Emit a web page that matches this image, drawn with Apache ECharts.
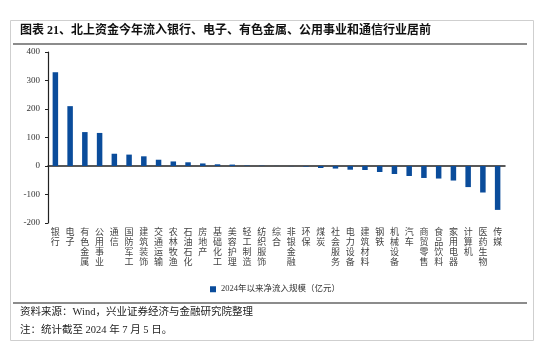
<!DOCTYPE html>
<html>
<head>
<meta charset="utf-8">
<script src="https://cdn.jsdelivr.net/npm/echarts@6/dist/echarts.min.js"></script>
<style>
    html, body { margin: 0; padding: 0; background: #fff; }
    #main { width: 550px; height: 354px; }
</style>
</head>
<body>
<div id="main"></div>
<script>
// industries, sorted by net inflow
var industries = ['银行', '电子', '有色金属', '公用事业', '通信', '国防军工', '建筑装饰', '交通运输',
    '农林牧渔', '石油石化', '房地产', '基础化工', '美容护理', '轻工制造', '纺织服饰', '综合',
    '非银金融', '环保', '煤炭', '社会服务', '电力设备', '建筑材料', '钢铁', '机械设备', '汽车',
    '商贸零售', '食品饮料', '家用电器', '计算机', '医药生物', '传媒'];
// net inflow since 2024 (100m yuan)
var netInflow = [329, 210, 119, 116, 43, 40, 34, 22,
    16, 13, 9, 6, 5, 1.5, 1, 0.3,
    -0.5, -2, -7, -9, -13, -14, -21, -28, -35,
    -42, -44, -51, -74, -93, -154];
var yTicks = { min: -200, max: 400, interval: 100 };
var seriesName = '2024年以来净流入规模（亿元）';
var titleText = '图表 21、北上资金今年流入银行、电子、有色金属、公用事业和通信行业居前';
var sourceText = '资料来源：Wind，兴业证券经济与金融研究院整理';
var noteText = '注：统计截至 2024 年 7 月 5 日。';

var cjk = '"Liberation Serif", "Noto Sans CJK SC", serif';
var barColor = '#0a4c9b';

var chartDom = document.getElementById('main');
var myChart = echarts.init(chartDom, null, { renderer: 'canvas' });

var option = {
    animation: false,
    backgroundColor: '#fff',
    grid: { left: 48, right: 45, top: 52, bottom: 131, containLabel: false },
    legend: {
        data: [seriesName],
        left: 'center',
        top: 280,
        itemWidth: 6,
        itemHeight: 6,
        itemGap: 3,
        icon: 'rect',
        textStyle: { fontFamily: cjk, fontSize: 8.5, color: '#333' }
    },
    xAxis: [
        {
            // zero line
            type: 'category',
            data: industries,
            axisLine: { onZero: true, lineStyle: { color: '#222', width: 1.5 } },
            axisTick: { show: false },
            axisLabel: { show: false }
        },
        {
            // labels at the bottom
            type: 'category',
            data: industries,
            position: 'bottom',
            axisLine: { show: false, onZero: false },
            axisTick: { show: false },
            axisLabel: {
                interval: 0,
                margin: 5,
                fontFamily: cjk,
                fontSize: 9,
                lineHeight: 10,
                color: '#444',
                verticalAlign: 'top',
                formatter: function (v) { return v.split('').join('\n'); }
            }
        }
    ],
    yAxis: {
        type: 'value',
        min: yTicks.min,
        max: yTicks.max,
        interval: yTicks.interval,
        splitLine: { show: false },
        axisLine: { show: true, lineStyle: { color: '#222', width: 1.2 } },
        axisTick: { show: true, length: 3, lineStyle: { color: '#222' } },
        axisLabel: { margin: 8, fontFamily: cjk, fontSize: 9, color: '#333' }
    },
    series: [
        {
            name: seriesName,
            type: 'bar',
            data: netInflow,
            barWidth: 5.5,
            itemStyle: { color: barColor }
        }
    ],
    graphic: [
        // outer frame
        { type: 'rect', shape: { x: 10.5, y: 20.5, width: 523, height: 320 }, style: { fill: null, stroke: '#cfcfcf', lineWidth: 1 } },
        { type: 'text', left: 20, top: 25, style: { text: titleText, font: 'bold 12px ' + cjk, fill: '#111' } },
        { type: 'line', shape: { x1: 13, y1: 44, x2: 527, y2: 44 }, style: { stroke: '#666', lineWidth: 1.5 } },
        { type: 'line', shape: { x1: 13, y1: 303, x2: 527, y2: 303 }, style: { stroke: '#666', lineWidth: 1.5 } },
        { type: 'text', left: 20, top: 307, style: { text: sourceText, font: '10.5px ' + cjk, fill: '#222' } },
        { type: 'text', left: 20, top: 325, style: { text: noteText, font: '10.5px ' + cjk, fill: '#222' } }
    ]
};
myChart.setOption(option);
</script>
</body>
</html>
